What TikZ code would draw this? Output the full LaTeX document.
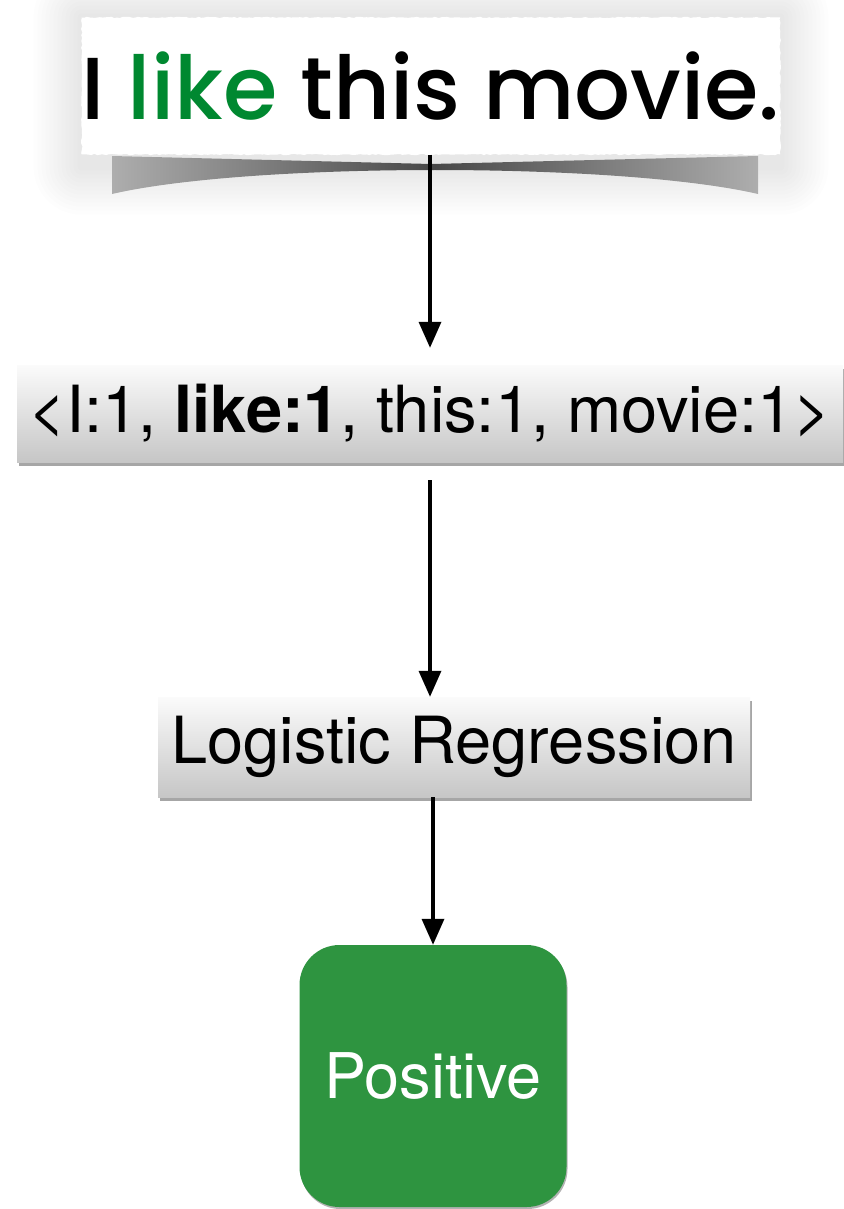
\documentclass[tikz,border=0pt]{standalone}
\usepackage{fontspec}
\setmainfont{TeX Gyre Heros}
\newfontfamily\handfont[UprightFont=* Medium]{Poppins}
\usepackage{xcolor}
\usetikzlibrary{arrows.meta,shadows,backgrounds,calc,decorations.pathmorphing}
\definecolor{likegreen}{RGB}{0,136,48}
\definecolor{posgreen}{RGB}{46,148,64}
\definecolor{boxtop}{RGB}{251,251,251}
\definecolor{boxbottom}{RGB}{198,198,198}
\tikzset{papernode/.style={fill=white,minimum width=695,minimum height=137,inner sep=0pt,
		decorate,decoration={random steps,segment length=3pt,amplitude=.7pt}}}
\tikzset{featnode/.style={top color=boxtop,bottom color=boxbottom,inner sep=0pt,
		drop shadow={shadow xshift=2pt,shadow yshift=-4pt,opacity=.35,fill=black}}}
\tikzset{classnode/.style={fill=posgreen,rounded corners=40pt,inner sep=0pt,
		drop shadow={shadow xshift=1pt,shadow yshift=-2pt,opacity=.3,fill=black}}}
\tikzset{flowarrow/.style={line width=3.5pt,-{Triangle[width=22pt,length=26pt]}}}

\begin{document}
\begin{tikzpicture}[x=1pt,y=-1pt]
		\useasboundingbox (0,0) rectangle (843,1209);
		%
		\node[papernode] (sentence) at (431,86)
			{\handfont\fontsize{88}{88}\selectfont I \textcolor{likegreen}{like} this movie.};
		\node[featnode,minimum width=826,minimum height=97] (features) at (430,413.5)
			{\fontsize{65}{65}\selectfont <I:1, \textbf{like:1}, this:1, movie:1>};
		\node[featnode,minimum width=592,minimum height=100] (model) at (454,747)
			{\fontsize{65}{65}\selectfont Logistic Regression};
		\node[classnode,minimum width=267,minimum height=262] (label) at (433,1076)
			{\color{white}\fontsize{63}{63}\selectfont Positive};
		%
		\begin{scope}[on background layer]
			% soft halo round the paper
			\foreach \g in {4,8,...,48}
				\fill[black,opacity=.007,rounded corners=\g pt]
					($(sentence.north west)+(-\g,-\g)$) rectangle ($(sentence.south east)+(\g,\g+12)$);
			% curled shadow under the paper
			\shade[left color=black!32,right color=black!32,middle color=black!72]
				(112,156) -- (431,164) -- (758,156) -- (758,194)
				.. controls (620,162) and (250,162) .. (112,194) -- cycle;
		\end{scope}
		%
		\draw[flowarrow,shorten >=17pt] (sentence.south -| features.north) -- (features.north);
		\draw[flowarrow,shorten <=18pt] (features.south) -- (features.south |- model.north);
		\draw[flowarrow] (model.south -| label.north) -- (label.north);
	\end{tikzpicture}
\end{document}
